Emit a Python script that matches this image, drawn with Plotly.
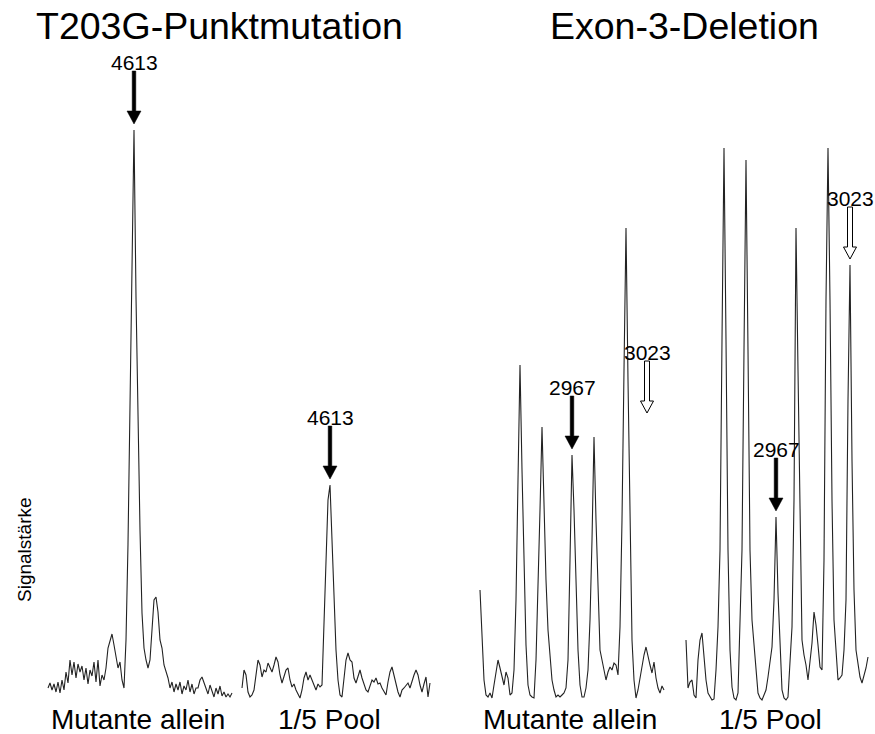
import plotly.graph_objects as go

# --------------------------- trace data (signal) --------------------------- #
# one value per sampling channel

# T203G, mutant alone
mut_t203g = [12, 17, 10, 16, 8, 18, 7, 20, 10, 28,
             17, 40, 25, 38, 22, 36, 28, 34, 20, 32,
             16, 30, 24, 38, 18, 40, 14, 25, 20, 32,
             52, 60, 66, 55, 45, 32, 38, 20, 12, 60,
             156, 294, 432, 570, 403, 260, 170, 87, 52, 40,
             32, 40, 70, 100, 103, 88, 60, 52, 35, 28,
             22, 12, 18, 8, 16, 10, 18, 6, 14, 10,
             20, 8, 16, 6, 12, 12, 20, 23, 18, 12,
             6, 15, 8, 3, 12, 6, 14, 4, 8, 3,
             6, 3, 7]

# T203G, 1/5 pool
pool_t203g = [12, 30, 25, 8, 3, 5, 10, 28, 40, 35,
              23, 30, 28, 37, 32, 28, 35, 43, 38, 25,
              17, 25, 30, 32, 20, 13, 16, 10, 6, 2,
              10, 22, 28, 20, 25, 20, 14, 10, 16, 13,
              15, 70, 140, 200, 215, 155, 90, 50, 20, 5,
              3, 20, 40, 47, 40, 38, 22, 17, 25, 30,
              22, 15, 10, 8, 14, 20, 18, 22, 16, 17,
              12, 8, 5, 18, 28, 33, 24, 15, 8, 3,
              10, 12, 15, 17, 12, 20, 25, 30, 25, 15,
              8, 16, 23, 3, 17]

# Exon-3 deletion, mutant alone
mut_exon3 = [110, 57, 20, 5, 3, 7, 2, 15, 30, 40,
             32, 22, 15, 28, 22, 5, 7, 30, 100, 220,
             335, 230, 130, 55, 15, 5, 3, 2, 40, 107,
             190, 273, 195, 120, 70, 47, 20, 10, 3, 5,
             3, 5, 7, 12, 40, 140, 245, 190, 130, 50,
             15, 3, 3, 12, 30, 80, 160, 263, 180, 110,
             50, 40, 30, 20, 28, 33, 30, 37, 35, 25,
             73, 180, 330, 472, 320, 160, 60, 20, 2, 10,
             23, 32, 45, 53, 43, 35, 27, 38, 22, 12,
             7, 14, 10]

# Exon-3 deletion, 1/5 pool
pool_exon3 = [60, 12, 18, 20, 5, 2, 40, 60, 67, 45,
              20, 7, 3, 0, 1, 30, 73, 150, 360, 552,
              360, 150, 50, 13, 2, 0, 7, 73, 150, 350,
              540, 350, 150, 80, 55, 25, 7, 2, 0, 5,
              10, 23, 40, 53, 100, 183, 107, 50, 10, 2,
              0, 3, 40, 73, 200, 472, 330, 180, 60, 45,
              35, 20, 40, 57, 88, 75, 55, 33, 30, 140,
              400, 552, 400, 200, 80, 50, 20, 22, 25, 50,
              100, 300, 435, 240, 110, 50, 35, 23, 17, 24,
              32, 43]

traces = [mut_t203g, pool_t203g, mut_exon3, pool_exon3]

# arrows: (panel, channel, mass label, filled?, height or None ->)
arrows = [
    (0, 43, "4613", True, None),
    (1, 44, "4613", True, None),
    (2, 46, "2967", True, None),
    (2, 83.5, "3023", False, 281),
    (3, 45, "2967", True, None),
    (3, 82, "3023", False, None),
]

titles = ["T203G-Punktmutation", "Exon-3-Deletion"]
sample_labels = ["Mutante allein", "1/5 Pool", "Mutante allein", "1/5 Pool"]
y_label = "Signalstärke"

W, H = 875, 734
FONT = "Liberation Sans, Arial, sans-serif"

# pixel extent of each panel
panel_px = [(46, 234), (240, 432), (478, 666), (684, 870)]

fig = go.Figure()

for k, ys in enumerate(traces):
    xa = "x" if k == 0 else f"x{k+1}"
    fig.add_trace(go.Scatter(
        x=list(range(len(ys))),
        y=ys,
        mode="lines",
        line=dict(color="#222222", width=1.1),
        xaxis=xa, yaxis="y",
        showlegend=False, hoverinfo="skip",
    ))
    x0, x1 = panel_px[k]
    ax_name = "xaxis" if k == 0 else f"xaxis{k+1}"
    fig.update_layout({ax_name: dict(
        domain=[x0 / W, x1 / W],
        range=[-1, (x1 - x0) / 2 - 1],
        visible=False, anchor="y",
    )})

fig.update_layout(yaxis=dict(
    domain=[29 / H, 684 / H],
    range=[-5, 650],
    visible=False,
))

# ----------------------------- arrows & labels ----------------------------- #
gap = 6
shapes = []
annotations = []
for panel, ch, text, filled, height in arrows:
    xref = "x" if panel == 0 else f"x{panel+1}"
    yval = height if height is not None else traces[panel][int(ch)]
    g = gap
    if filled:
        path = (f"M 0 {g} L -7 {g+13} L -1.8 {g+13} L -1.8 {g+53} "
                f"L 1.8 {g+53} L 1.8 {g+13} L 7 {g+13} Z")
        fill, lw = "black", 0.5
        top = g + 53
    else:
        path = (f"M 0 {g} L -6.5 {g+12} L -2.5 {g+12} L -2.5 {g+52} "
                f"L 2.5 {g+52} L 2.5 {g+12} L 6.5 {g+12} Z")
        fill, lw = "white", 1
        top = g + 52
    shapes.append(dict(
        type="path", path=path, xref=xref, yref="y",
        xsizemode="pixel", ysizemode="pixel",
        xanchor=ch, yanchor=yval,
        fillcolor=fill, line=dict(color="black", width=lw),
    ))
    annotations.append(dict(
        x=ch, y=yval, xref=xref, yref="y", text=text, showarrow=False,
        yshift=top + 9, yanchor="middle",
        font=dict(family=FONT, size=21, color="black"),
    ))

# titles
for text, cx in zip(titles, [219, 684]):
    annotations.append(dict(
        x=cx / W, y=1 - 26 / H, xref="paper", yref="paper", text=text,
        showarrow=False, xanchor="center", yanchor="middle",
        font=dict(family=FONT, size=37.5, color="black"),
    ))

# sample labels under the traces
for text, cx in zip(sample_labels, [138, 329, 570, 770]):
    annotations.append(dict(
        x=cx / W, y=1 - 719 / H, xref="paper", yref="paper", text=text,
        showarrow=False, xanchor="center", yanchor="middle",
        font=dict(family=FONT, size=28, color="black"),
    ))

annotations.append(dict(
    x=24 / W, y=1 - 550 / H, xref="paper", yref="paper", text=y_label,
    showarrow=False, textangle=-90, xanchor="center", yanchor="middle",
    font=dict(family=FONT, size=19, color="black"),
))

fig.update_layout(
    width=W, height=H,
    margin=dict(l=0, r=0, t=0, b=0),
    paper_bgcolor="white", plot_bgcolor="white",
    shapes=shapes, annotations=annotations,
)

# page body has a default 8px margin; drop it so the figure fills the window
fig.write_html("out.html", config={"displayModeBar": False},
               post_script="document.body.style.margin='0';")
